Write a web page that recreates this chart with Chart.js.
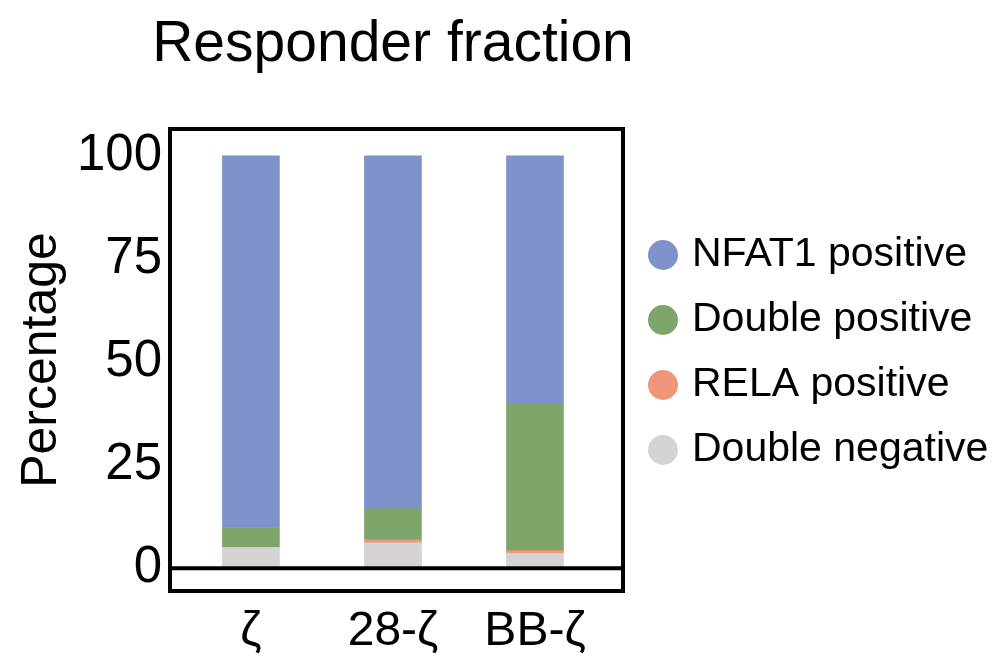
<!DOCTYPE html>
<html><head><meta charset="utf-8">
<script src="https://cdn.jsdelivr.net/npm/chart.js@4"></script>
<style>html,body{margin:0;padding:0;background:#fff}#wrap{width:1005px;height:662px;position:relative}</style>
</head><body><div id="wrap"><canvas id="c" width="1005" height="662"></canvas></div>
<script>
const categories = ['ζ', '28-ζ', 'BB-ζ'];
const doubleNegative = [5.0, 6.2, 3.6];
const relaPositive = [0.1, 0.7, 0.7];
const doublePositive = [4.8, 7.5, 35.6];
const nfat1Positive = [90.1, 85.6, 60.1];
const yTicks = [0, 25, 50, 75, 100];
const FONT = 'Liberation Sans, Arial, sans-serif';

const mk = (label, vals, color) => ({label, data: vals.map((v,i)=>({x:i,y:v})), backgroundColor: color, barThickness: 57, borderWidth: 0});

const frame = {
  id: 'frame',
  afterDraw(chart) {
    const {ctx, chartArea: a, scales} = chart;
    ctx.save();
    ctx.strokeStyle = '#000'; ctx.lineWidth = 4;
    ctx.strokeRect(a.left, a.top, a.right - a.left, a.bottom - a.top);
    const y0 = scales.y.getPixelForValue(0);
    ctx.beginPath(); ctx.moveTo(a.left, y0); ctx.lineTo(a.right, y0); ctx.stroke();
    ctx.fillStyle = '#000'; ctx.font = '57px ' + FONT; ctx.textAlign = 'center'; ctx.textBaseline = 'middle';
    ctx.fillText('Responder fraction', 393, 45);
    const ds = chart.data.datasets.slice().reverse();
    ctx.font = '41px ' + FONT; ctx.textAlign = 'left';
    ds.forEach((d, i) => {
      const y = 255 + i * 65;
      ctx.fillStyle = d.backgroundColor;
      ctx.beginPath(); ctx.arc(663, y, 15, 0, Math.PI * 2); ctx.fill();
      ctx.fillStyle = '#000';
      ctx.fillText(d.label, 692, y);
    });
    ctx.restore();
  }
};

new Chart(document.getElementById('c'), {
  type: 'bar',
  data: { datasets: [
    mk('Double negative', doubleNegative, '#d5d3d5'),
    mk('RELA positive', relaPositive, '#f0967a'),
    mk('Double positive', doublePositive, '#7ea66a'),
    mk('NFAT1 positive', nfat1Positive, '#7f93cb')
  ]},
  options: {
    responsive: false, animation: false,
    layout: { padding: { top: 129, right: 382, left: 12, bottom: 0 } },
    plugins: { legend: { display: false }, tooltip: { enabled: false }, title: { display: false } },
    scales: {
      x: { type: 'linear', stacked: true, min: -0.57, max: 2.62, offset: false,
        afterBuildTicks: s => { s.ticks = categories.map((c,i)=>({value:i})); },
        afterFit: s => { s.height = 71; },
        grid: { display: false, drawTicks: false }, border: { display: false },
        ticks: { padding: 12, font: { family: FONT, size: 48 }, color: '#000', callback: (v) => categories[v] } },
      y: { stacked: true, min: -5.5, max: 106.5,
        afterBuildTicks: s => { s.ticks = yTicks.map(v=>({value:v})); },
        afterFit: s => { s.width = 158; },
        grid: { display: false, drawTicks: false }, border: { display: false },
        ticks: { padding: 8, font: { family: FONT, size: 51 }, color: '#000' },
        title: { display: true, text: 'Percentage', font: { family: FONT, size: 50 }, color: '#000', padding: 0 } }
    }
  },
  plugins: [frame]
});
</script></body></html>
